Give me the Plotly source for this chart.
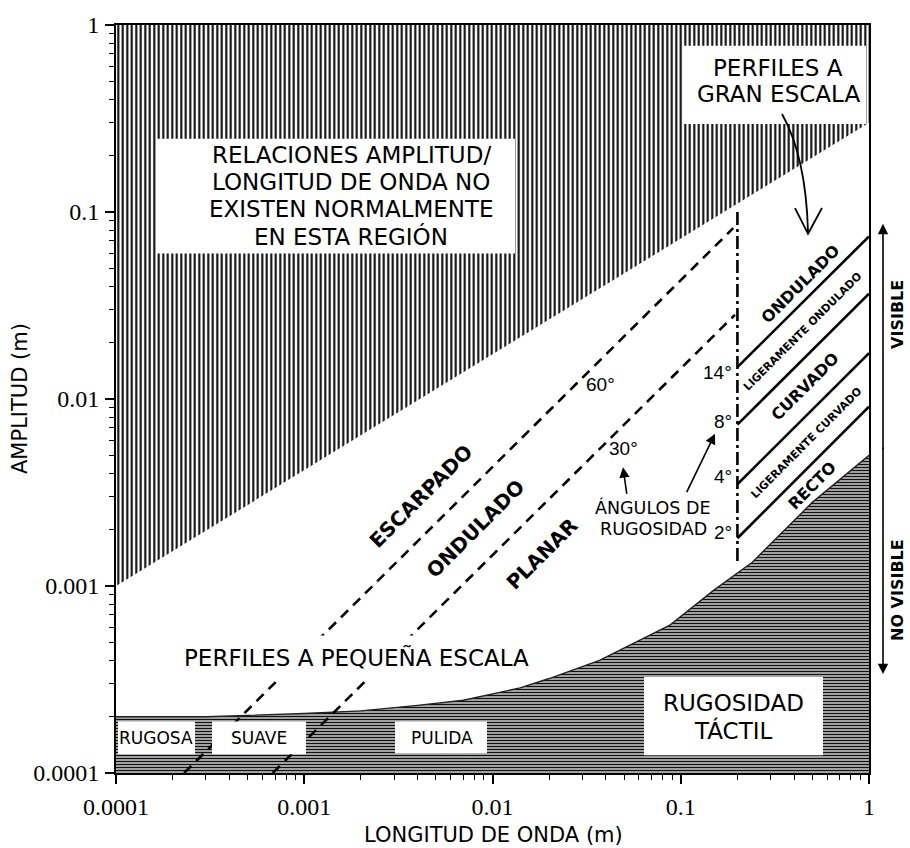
import plotly.graph_objects as go

# ---- axes ---------------------------------------------------------------
tick_vals = [1e-4, 1e-3, 1e-2, 1e-1, 1.0]
tick_text = ["0.0001", "0.001", "0.01", "0.1", "1"]
minor_vals = [m * 10.0 ** e for e in range(-4, 0) for m in range(2, 10)]

# ---- regions ------------------------------------------------------------
# upper limit of amplitude / wavelength relations found in nature
upper_lambda = [1e-4, 1.0]
upper_amp = [1e-3, 0.3]

# upper edge of the tactile-roughness region
tactile_lambda = [1e-4, 3e-4, 1e-3, 2e-3, 4e-3, 7e-3, 0.014, 0.02, 0.037,
                  0.06, 0.088, 0.15, 0.24, 0.5, 1.0]
tactile_amp = [2.0e-4, 2.0e-4, 2.08e-4, 2.15e-4, 2.3e-4, 2.45e-4, 2.85e-4, 3.2e-4,
               4.0e-4, 5.1e-4, 6.2e-4, 9.5e-4, 1.34e-3, 2.8e-3, 5.0e-3]

# small-scale profile limits (dashed)
small_angles = ["60°", "30°"]
small_lambda = [[2.3e-4, 0.19], [6.8e-4, 0.194]]
small_amp = [[1.0e-4, 0.082], [1.0e-4, 0.0282]]

# large-scale profile limits, amplitude at lambda = 0.2 m and 1 m
large_angles = ["14°", "8°", "4°", "2°"]
large_lambda = [0.2, 1.0]
large_amp_start = [0.0148, 0.0073, 0.0035, 0.0018]
large_amp_end = [0.074, 0.0366, 0.0176, 0.0091]

# visibility cut between small and large scale
cut_lambda = 0.2
cut_amp = [0.1, 0.0013]

X_MIN, X_MAX = 1e-4, 1.0
Y_MIN, Y_MAX = 1e-4, 1.0

# ---- page geometry (pixels) --------------------------------------------
W, H = 910, 848
L, R, T, B = 116, 869, 17, 773


def pp(x, y):
    """pixel position -> paper fraction"""
    return (x - L) / (R - L), (B - y) / (B - T)


SANS = "DejaVu Sans"
fig = go.Figure()

# hatched region of non-existing relations (vertical lines)
fig.add_trace(go.Scatter(
    x=upper_lambda + [X_MAX, X_MIN],
    y=upper_amp + [Y_MAX, Y_MAX],
    mode="lines", fill="toself", line=dict(width=0),
    fillpattern=dict(shape="|", size=4.5, solidity=0.45, fgcolor="#000",
                     bgcolor="#fff", fillmode="replace"),
    hoverinfo="skip", showlegend=False))

# tactile roughness region (horizontal lines)
fig.add_trace(go.Scatter(
    x=tactile_lambda + [X_MAX, X_MIN],
    y=tactile_amp + [Y_MIN, Y_MIN],
    mode="lines", fill="toself", line=dict(width=0),
    fillpattern=dict(shape="-", size=3, solidity=0.6, fgcolor="#111",
                     bgcolor="#fff", fillmode="replace"),
    hoverinfo="skip", showlegend=False))
fig.add_trace(go.Scatter(
    x=tactile_lambda, y=tactile_amp, mode="lines",
    line=dict(color="#222", width=1.4), hoverinfo="skip", showlegend=False))

# dashed small-scale limits
for xs, ys in zip(small_lambda, small_amp):
    fig.add_trace(go.Scatter(
        x=xs, y=ys, mode="lines",
        line=dict(color="#000", width=2.6, dash="10px,7px"),
        hoverinfo="skip", showlegend=False))

# vertical dash-dot cut
fig.add_trace(go.Scatter(
    x=[cut_lambda, cut_lambda], y=cut_amp, mode="lines",
    line=dict(color="#000", width=2.6, dash="13px,4px,3px,4px"),
    hoverinfo="skip", showlegend=False))

# large-scale angle lines
for a0, a1 in zip(large_amp_start, large_amp_end):
    fig.add_trace(go.Scatter(
        x=large_lambda, y=[a0, a1], mode="lines",
        line=dict(color="#000", width=2.6),
        hoverinfo="skip", showlegend=False))

# ---- white label boxes --------------------------------------------------
boxes = [
    (157, 132, 515, 248),   # relaciones ...
    (683, 38, 866, 117),    # perfiles a gran escala
    (118, 721, 195, 754),   # rugosa
    (212, 721, 306, 754),   # suave
    (395, 721, 487, 753),   # pulida
    (644, 676, 823, 755),   # rugosidad tactil
]
shapes = []
for x0, y0, x1, y1 in boxes:
    px0, py1 = pp(x0, y0)
    px1, py0 = pp(x1, y1)
    shapes.append(dict(type="rect", xref="paper", yref="paper",
                       x0=px0, x1=px1, y0=py0, y1=py1,
                       fillcolor="#fff", line=dict(width=0), layer="above"))


def path(points, cmd="L"):
    s = ""
    for i, (x, y) in enumerate(points):
        fx, fy = pp(x, y)
        s += ("M" if i == 0 else " " + cmd) + f" {fx:.5f},{fy:.5f}"
    return s


# curved arrow from "perfiles a gran escala"
a0 = pp(782, 107)
c0 = pp(806, 150)
a1 = pp(808, 226)
shapes.append(dict(type="path", xref="paper", yref="paper", layer="above",
                   path=f"M {a0[0]:.5f},{a0[1]:.5f} Q {c0[0]:.5f},{c0[1]:.5f} {a1[0]:.5f},{a1[1]:.5f}",
                   line=dict(color="#000", width=1.8)))
shapes.append(dict(type="path", xref="paper", yref="paper", layer="above",
                   path=path([(795, 202), (808, 228), (822, 202)]),
                   line=dict(color="#000", width=1.8)))

# ---- texts --------------------------------------------------------------
ann = []


def text(t, x, y, size, angle=0, bold=False, family=SANS, xanchor="center",
         knockout=False):
    fx, fy = pp(x, y)
    a = dict(
        text=f"<b>{t}</b>" if bold else t, x=fx, y=fy, xref="paper", yref="paper",
        xanchor=xanchor, yanchor="middle", showarrow=False, textangle=angle,
        font=dict(family=family, size=size, color="#000"))
    if knockout:
        a.update(bgcolor="#fff", borderpad=8)
    ann.append(a)


def block(lines, x, y0, step, size):
    for i, t in enumerate(lines):
        text(t, x, y0 + i * step, size)


block(["RELACIONES AMPLITUD/", "LONGITUD DE ONDA NO",
       "EXISTEN NORMALMENTE", "EN ESTA REGIÓN"], 351, 148, 27.5, 23)
block(["PERFILES A", "GRAN ESCALA"], 778, 60, 27, 23)
text("PERFILES A PEQUEÑA ESCALA", 356, 656, 23, knockout=True)
text("ESCARPADO", 421, 493, 20, -45, True)
text("ONDULADO", 475, 526, 20, -45, True)
text("PLANAR", 542, 552, 20, -45, True)
text(small_angles[0], 600, 380, 19, family="Liberation Sans")
text(small_angles[1], 623, 445, 19, family="Liberation Sans")
block(["ÁNGULOS DE", "RUGOSIDAD"], 653, 505, 21, 17.5)
for lab, yy in zip(large_angles, [368, 418, 473, 530]):
    text(lab, 734, yy, 19, family="Liberation Sans", xanchor="right")
text("ONDULADO", 800, 279, 16, -45, True)
text("LIGERAMENTE ONDULADO", 803, 327, 11, -45, True)
text("CURVADO", 805, 382, 16, -45, True)
text("LIGERAMENTE CURVADO", 806, 440, 11, -45, True)
text("RECTO", 812, 482, 16, -45, True)
block(["RUGOSIDAD", "TÁCTIL"], 733, 702, 28, 23)
text("RUGOSA", 156, 738, 17)
text("SUAVE", 259, 738, 17)
text("PULIDA", 442, 738, 17)
text("VISIBLE", 898, 310, 16, -90, True)
text("NO VISIBLE", 898, 588, 16, -90, True)
text("AMPLITUD (m)", 20, 395, 21, -90)
text("LONGITUD DE ONDA (m)", 493, 836, 21)


def arrow(tip, tail, head=2, size=1.3, width=1.6):
    fx, fy = pp(*tip)
    ann.append(dict(x=fx, y=fy, xref="paper", yref="paper", text="",
                    showarrow=True, arrowhead=head, arrowsize=size,
                    arrowwidth=width, arrowcolor="#000",
                    ax=tail[0] - tip[0], ay=tail[1] - tip[1]))


arrow((623, 464), (627, 492))
arrow((715, 430), (686, 490))
arrow((883, 218), (883, 445))
arrow((883, 673), (883, 445))

axis_common = dict(
    type="log", showgrid=False, zeroline=False,
    showline=True, linecolor="#000", linewidth=2, mirror=True,
    ticks="outside", ticklen=9, tickwidth=1.5, tickcolor="#000",
    tickvals=tick_vals, ticktext=tick_text,
    tickfont=dict(family="Liberation Serif", size=24, color="#000"),
    minor=dict(tickvals=minor_vals, ticks="outside", ticklen=5,
               tickwidth=1.2, tickcolor="#000", showgrid=False),
)

fig.update_layout(
    width=W, height=H,
    margin=dict(l=L, r=W - R, t=T, b=H - B),
    paper_bgcolor="#fff", plot_bgcolor="#fff",
    xaxis=dict(axis_common, range=[-4, 0], ticklabelstandoff=2),
    yaxis=dict(axis_common, range=[-4, 0], ticklabelstandoff=1),
    shapes=shapes, annotations=ann, showlegend=False,
)

fig.write_html("out.html")
